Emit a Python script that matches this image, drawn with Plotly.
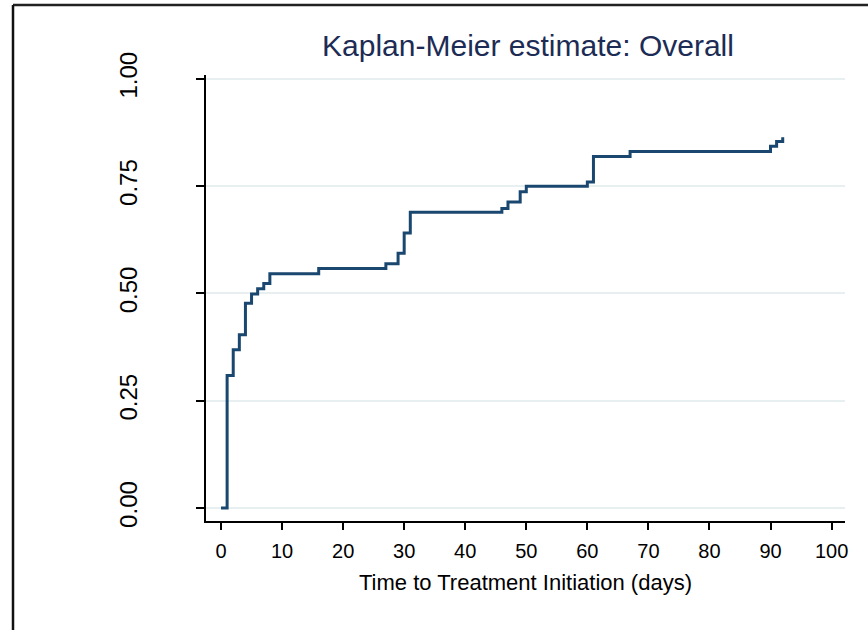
import plotly.graph_objects as go

# Kaplan-Meier step data (time in days, cumulative proportion)
times = [0, 1, 2, 3, 4, 5, 6, 7, 8, 16, 27, 29, 30, 31, 46, 47, 49, 50, 60, 61, 67, 90, 91, 92]
values = [0.0, 0.309, 0.369, 0.404, 0.477, 0.499, 0.511, 0.523, 0.546, 0.558, 0.569, 0.594,
          0.641, 0.689, 0.698, 0.713, 0.737, 0.750, 0.760, 0.819, 0.831, 0.843, 0.854, 0.864]

x_ticks = [0, 10, 20, 30, 40, 50, 60, 70, 80, 90, 100]
y_ticks = [0.0, 0.25, 0.5, 0.75, 1.0]
y_tick_labels = ["0.00", "0.25", "0.50", "0.75", "1.00"]

title_text = "Kaplan-Meier estimate: Overall"
x_title = "Time to Treatment Initiation (days)"

FONT = "Liberation Sans, Arial, Helvetica, sans-serif"

fig = go.Figure()
fig.add_trace(go.Scatter(
    x=times, y=values, mode="lines", line_shape="hv",
    line=dict(color="#1a476f", width=3), showlegend=False, hoverinfo="x+y"))

fig.update_layout(
    width=868, height=630,
    margin=dict(l=206, r=23, t=75, b=109),
    paper_bgcolor="white", plot_bgcolor="white",
    font=dict(family=FONT, size=20, color="black"),
    title=dict(text=title_text, x=528 / 868, xanchor="center",
               y=1 - 45 / 630, yanchor="middle", yref="container",
               font=dict(family=FONT, size=30, color="#1c2c55")),
    xaxis=dict(range=[-2.46, 102.2], tickvals=x_ticks, ticks="outside", ticklen=7,
               tickwidth=1.5, tickcolor="black", showline=True, linecolor="black",
               linewidth=1.8, showgrid=False, zeroline=False,
               tickfont=dict(size=20), ticklabelstandoff=4,
               title=dict(text=x_title, standoff=14, font=dict(size=22))),
    yaxis=dict(range=[-0.030, 1.009], tickvals=y_ticks, ticktext=y_tick_labels,
               tickangle=-90, ticks="outside", ticklen=8, tickwidth=1.5,
               tickcolor="black", showline=True, linecolor="black", linewidth=1.8,
               showgrid=True, gridcolor="#e8eff1", gridwidth=2, zeroline=False,
               tickfont=dict(size=24), ticklabelstandoff=50),
    shapes=[
        dict(type="line", xref="paper", yref="paper", x0=(13 - 206) / 639, x1=(868 - 206) / 639,
             y0=(521 - 5) / 446, y1=(521 - 5) / 446, line=dict(color="#222", width=2.5)),
        dict(type="line", xref="paper", yref="paper", x0=(13 - 206) / 639, x1=(13 - 206) / 639,
             y0=(521 - 5) / 446, y1=(521 - 632) / 446, line=dict(color="#111", width=2.5)),
    ],
)

fig.write_html("out.html", config={"displayModeBar": False},
               post_script="document.body.style.margin='0px';")
